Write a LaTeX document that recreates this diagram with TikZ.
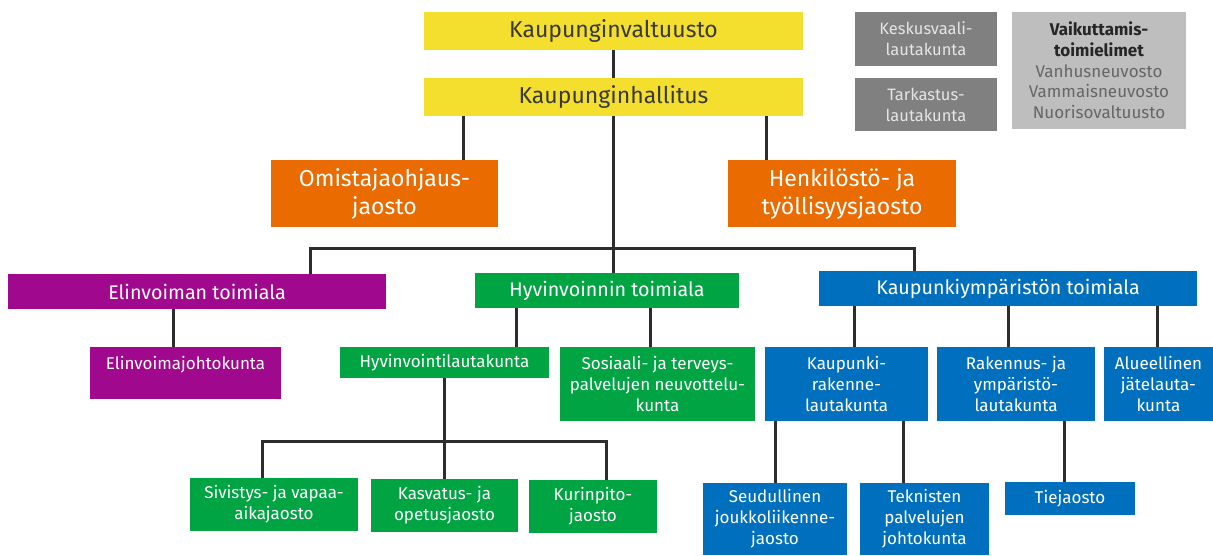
\documentclass[tikz,border=0pt]{standalone}
\usepackage{fontspec}
\setmainfont{Fira Sans}
\definecolor{kyellow}{HTML}{F4DF2F}
\definecolor{korange}{HTML}{EA6B00}
\definecolor{kpurple}{HTML}{A0098E}
\definecolor{kgreen}{HTML}{00A443}
\definecolor{kblue}{HTML}{0070BE}
\definecolor{kdgrey}{HTML}{808080}
\definecolor{klgrey}{HTML}{BEBEBE}
\definecolor{kline}{HTML}{2D2D2D}
\definecolor{kytext}{HTML}{3A3A3A}
\definecolor{kgtext}{HTML}{666666}
\definecolor{kbtext}{HTML}{262626}
\begin{document}
\begin{tikzpicture}[x=1pt,y=-1pt,
  box/.style={inner sep=0pt, outer sep=0pt, align=center, text=white},
  yel/.style={box, fill=kyellow, text=kytext, font=\fontsize{23}{26}\selectfont, minimum width=379pt, minimum height=38pt},
  ora/.style={box, fill=korange, font=\fontsize{23}{28}\selectfont, minimum height=67pt},
  dgr/.style={box, fill=kdgrey, text=white!90!black, font=\fontsize{16.5}{21}\selectfont, minimum width=142pt},
  lgr/.style={box, fill=klgrey, text=kgtext, font=\fontsize{17}{20.7}\selectfont},
  dept/.style={box, font=\fontsize{19.7}{23}\selectfont, minimum height=35pt},
  sub/.style={box, font=\fontsize{17}{21}\selectfont},
  conn/.style={draw=kline, line width=3pt}
]
\useasboundingbox (0,0) rectangle (1213,555);

% top level
\node[yel] (valt) at (613.5,31) {Kaupunginvaltuusto};
\node[yel] (hall) at (613.5,97) {Kaupunginhallitus};
\node[ora, minimum width=227pt] (omist) at (384.5,193.5) {Omistajaohjaus-\\jaosto};
\node[ora, minimum width=228pt] (henk) at (842,193.5) {Henkilöstö- ja\\työllisyysjaosto};

% side boxes
\node[dgr, minimum height=54pt] (kesk) at (926,39) {Keskusvaali-\\lautakunta};
\node[dgr, minimum height=53pt] (tark) at (926,104.5) {Tarkastus-\\lautakunta};
\node[lgr, minimum width=174pt, minimum height=117pt] (vaik) at (1099,70.5)
  {{\color{kbtext}\bfseries Vaikuttamis-}\\{\color{kbtext}\bfseries toimielimet}\\Vanhusneuvosto\\Vammaisneuvosto\\Nuorisovaltuusto};

% departments
\node[dept, fill=kpurple, minimum width=378pt] (elin) at (197,291.5) {Elinvoiman toimiala};
\node[dept, fill=kgreen, minimum width=264pt] (hyv) at (607,290.5) {Hyvinvoinnin toimiala};
\node[dept, fill=kblue, minimum width=378pt] (kym) at (1008,288.5) {Kaupunkiympäristön toimiala};

% second level
\node[sub, fill=kpurple, minimum width=191pt, minimum height=52pt] (elinjk) at (185.5,373) {Elinvoimajohtokunta\\~};
\node[sub, fill=kgreen, minimum width=209pt, minimum height=31pt] (hvl) at (444.5,362.5) {Hyvinvointilautakunta};
\node[sub, fill=kgreen, minimum width=195pt, minimum height=74pt] (sos) at (657.5,384) {Sosiaali- ja terveys-\\palvelujen neuvottelu-\\kunta};
\node[sub, fill=kblue, minimum width=163pt, minimum height=74pt] (kr) at (846.5,384) {Kaupunki-\\rakenne-\\lautakunta};
\node[sub, fill=kblue, minimum width=158pt, minimum height=74pt] (ry) at (1016,384) {Rakennus- ja\\ympäristö-\\lautakunta};
\node[sub, fill=kblue, minimum width=109pt, minimum height=74pt] (alue) at (1158.5,384) {Alueellinen\\jätelauta-\\kunta};

% third level
\node[sub, fill=kgreen, minimum width=168pt, minimum height=53pt] (siv) at (274,504.5) {Sivistys- ja vapaa-\\aikajaosto};
\node[sub, fill=kgreen, minimum width=147pt, minimum height=53pt] (kasv) at (444.5,505.5) {Kasvatus- ja\\opetusjaosto};
\node[sub, fill=kgreen, minimum width=128pt, minimum height=53pt] (kur) at (593,506.5) {Kurinpito-\\jaosto};
\node[sub, fill=kblue, minimum width=144pt, minimum height=72pt] (seud) at (775,519) {Seudullinen\\joukkoliikenne-\\jaosto};
\node[sub, fill=kblue, minimum width=129pt, minimum height=72pt] (tek) at (924.5,519) {Teknisten\\palvelujen\\johtokunta};
\node[sub, fill=kblue, minimum width=130pt, minimum height=33pt] (tie) at (1070,498.5) {Tiejaosto};

% connectors
\coordinate (bar1) at (613.5,248);
\coordinate (bar2) at (444.5,441);
\draw[conn] (valt.south) -- (hall.north);
\draw[conn] (hall.south -| 463,0) -- (omist.north -| 463,0);
\draw[conn] (hall.south -| 766,0) -- (henk.north -| 766,0);
\draw[conn] (hall.south) -- (hall.south |- hyv.north);
\draw[conn] (elin.north -| 310,0) |- (bar1) -| (kym.north -| 914,0);
\draw[conn] (elin.south -| 173,0) -- (elinjk.north -| 173,0);
\draw[conn] (hyv.south -| 516,0) -- (hvl.north -| 516,0);
\draw[conn] (hyv.south -| 650,0) -- (sos.north -| 650,0);
\draw[conn] (hvl.south -| bar2) -- (kasv.north -| bar2);
\draw[conn] (siv.north -| 262,0) |- (bar2) -| (kur.north -| 606,0);
\draw[conn] (kym.south -| 854,0) -- (kr.north -| 854,0);
\draw[conn] (kym.south -| 1008,0) -- (ry.north -| 1008,0);
\draw[conn] (kym.south -| 1157,0) -- (alue.north -| 1157,0);
\draw[conn] (kr.south -| 775,0) -- (seud.north -| 775,0);
\draw[conn] (kr.south -| 903,0) -- (tek.north -| 903,0);
\draw[conn] (ry.south -| 1064,0) -- (tie.north -| 1064,0);
\end{tikzpicture}
\end{document}
